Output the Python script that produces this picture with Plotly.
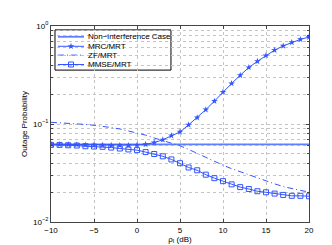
import plotly.graph_objects as go

x_db = list(range(-10, 21))

non_interference = [0.062] * len(x_db)

mrc_mrt = [0.062, 0.0618, 0.0616, 0.0614, 0.0612, 0.061, 0.0608, 0.0606, 0.0605, 0.0605,
           0.061, 0.062, 0.0646, 0.069, 0.076, 0.083, 0.098, 0.116, 0.14, 0.171,
           0.212, 0.259, 0.314, 0.377, 0.436, 0.50, 0.567, 0.626, 0.68, 0.73, 0.77]

zf_mrt = [0.104, 0.103, 0.102, 0.101, 0.099, 0.097, 0.095, 0.092, 0.089, 0.085,
          0.081, 0.077, 0.072, 0.068, 0.064, 0.060, 0.055, 0.050, 0.046, 0.042,
          0.038, 0.035, 0.0325, 0.0305, 0.0285, 0.026, 0.0245, 0.023, 0.0218, 0.021, 0.0202]

mmse_mrt = [0.0612, 0.0612, 0.0607, 0.0603, 0.0593, 0.0589, 0.0585, 0.0575, 0.0562, 0.055,
            0.0541, 0.0517, 0.0494, 0.0468, 0.0435, 0.0398, 0.036, 0.0337, 0.0304, 0.028,
            0.0261, 0.0242, 0.0227, 0.0217, 0.0206, 0.0201, 0.0195, 0.0189, 0.0185, 0.0185, 0.0183]

series_names = ["Non−interference Case", "MRC/MRT", "ZF/MRT", "MMSE/MRT"]

x_ticks = [-10, -5, 0, 5, 10, 15, 20]
y_ticks = [0.01, 0.1, 1]
y_ticktext = ["10<sup>−2</sup>", "10<sup>−1</sup>", "10<sup>0</sup>"]
y_minor = [m * d for d in (0.01, 0.1) for m in range(2, 10)]

blue = "#3355ff"
light_blue = "#5f7fff"
zf_dash = "6px,3px,1px,3px"

styles = [
    dict(mode="lines", line=dict(color=light_blue, width=1.8)),
    dict(mode="lines+markers", line=dict(color=blue, width=1),
         marker=dict(symbol="star", size=5, color=blue)),
    dict(mode="lines", line=dict(color=blue, width=1, dash=zf_dash)),
    dict(mode="lines+markers", line=dict(color=blue, width=1),
         marker=dict(symbol="square-open", size=5, color=blue, line=dict(width=1))),
]

fig = go.Figure()
for name, ys, st in zip(series_names, [non_interference, mrc_mrt, zf_mrt, mmse_mrt], styles):
    fig.add_trace(go.Scatter(x=x_db, y=ys, name=name, showlegend=False, **st))

# ---- compact legend (MATLAB style) drawn in paper coordinates ----
box = dict(x0=0.0155, x1=0.465, y0=0.775, y1=0.98)
row_y = [0.945, 0.8965, 0.8515, 0.8035]
line_x0, line_x1, mark_x, text_x = 0.027, 0.128, 0.0775, 0.136

fig.add_shape(type="rect", xref="paper", yref="paper", **box,
              line=dict(color="#000", width=1), fillcolor="white", layer="between")
for name, ry, st in zip(series_names, row_y, styles):
    ln = st["line"]
    fig.add_shape(type="line", xref="paper", yref="paper",
                  x0=line_x0, x1=line_x1, y0=ry, y1=ry, layer="between",
                  line=dict(color=ln["color"], width=ln["width"], dash=ln.get("dash", "solid")))
    fig.add_annotation(x=text_x, y=ry, xref="paper", yref="paper", text=name,
                       showarrow=False, xanchor="left", yanchor="middle",
                       font=dict(size=8, color="#000", family="Liberation Sans"))
    if "marker" in st:
        fig.add_trace(go.Scatter(x=[mark_x], y=[ry], xaxis="x2", yaxis="y2", mode="markers",
                                 marker=st["marker"], showlegend=False, hoverinfo="skip"))

axis_common = dict(showline=True, linecolor="#444", linewidth=1, mirror="ticks",
                   ticks="inside", ticklen=3, tickcolor="#444",
                   showgrid=True, gridcolor="#c4c4c4", griddash="dot", gridwidth=1,
                   zeroline=False, tickfont=dict(size=8, color="#000", family="Liberation Sans"))

fig.update_layout(
    width=332, height=245,
    margin=dict(l=43, r=31, t=18, b=27),
    plot_bgcolor="white", paper_bgcolor="white",
    font=dict(family="Liberation Sans", size=8, color="#000"),
    xaxis=dict(range=[-10, 20], tickvals=x_ticks,
               title=dict(text="ρ<sub>I</sub> (dB)", standoff=1, font=dict(size=8)),
               **axis_common),
    yaxis=dict(type="log", range=[-2, 0], tickvals=y_ticks, ticktext=y_ticktext,
               title=dict(text="Outage Probability", standoff=4, font=dict(size=8)),
               minor=dict(tickvals=y_minor, showgrid=True, gridcolor="#c4c4c4", griddash="dot",
                          ticks="inside", ticklen=2, tickcolor="#444"),
               **axis_common),
    xaxis2=dict(overlaying="x", range=[0, 1], visible=False, fixedrange=True),
    yaxis2=dict(overlaying="y", range=[0, 1], visible=False, fixedrange=True),
    showlegend=False,
)

fig.write_html("out.html")
